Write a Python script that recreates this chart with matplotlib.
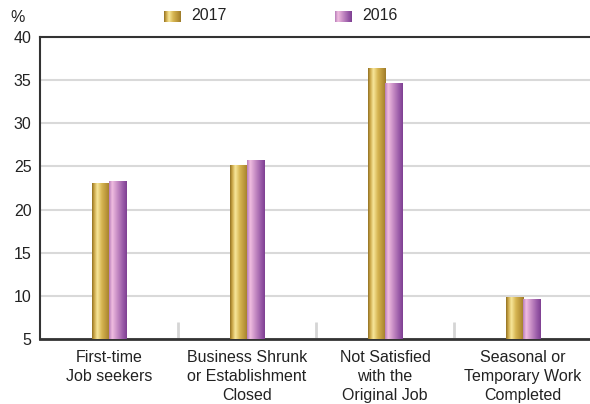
import numpy as np
import matplotlib
matplotlib.use("Agg")
import matplotlib.pyplot as plt
from matplotlib.colors import LinearSegmentedColormap

plt.rcParams['font.family'] = ['Liberation Sans', 'DejaVu Sans']

categories = ["First-time\nJob seekers", "Business Shrunk\nor Establishment\nClosed",
              "Not Satisfied\nwith the\nOriginal Job", "Seasonal or\nTemporary Work\nCompleted"]
series_names = ["2017", "2016"]
values_2017 = [23.1, 25.2, 36.4, 9.9]
values_2016 = [23.3, 25.7, 34.7, 9.6]
yticks = [5, 10, 15, 20, 25, 30, 35, 40]

gold = LinearSegmentedColormap.from_list("gold", [(0, "#8f6f22"), (0.12, "#c9a445"), (0.3, "#f8e79a"),
                                                  (0.55, "#d6b552"), (0.85, "#b48f35"), (1, "#9c7a2a")])
purple = LinearSegmentedColormap.from_list("purple", [(0, "#b67cb8"), (0.18, "#f0bde0"), (0.45, "#c98fc6"),
                                                      (0.8, "#9758a6"), (1, "#7e3f92")])

fig = plt.figure(figsize=(5.9, 4.04), dpi=100)
ax = fig.add_axes([40/590, 1-339/404, 552/590, 302/404])

x = np.arange(len(categories))
w = 0.124
grad = np.linspace(0, 1, 256).reshape(1, -1)
for vals, off, cmap in [(values_2017, -w/2, gold), (values_2016, w/2, purple)]:
    bars = ax.bar(x + off, np.array(vals) - 5, width=w, bottom=5, color="none", edgecolor="none", zorder=3)
    for b in bars:
        x0, y0 = b.get_x(), b.get_y()
        im = ax.imshow(grad, cmap=cmap, extent=(x0, x0 + b.get_width(), y0, y0 + b.get_height()),
                       aspect="auto", zorder=3, interpolation="bilinear")
        im.set_clip_path(b)

ax.set_xlim(-0.5, 3.5)
ax.set_ylim(5, 40)
ax.set_yticks(yticks)
ax.set_yticklabels([str(v) for v in yticks], fontsize=11.5, color="#222222")
ax.yaxis.grid(True, color="#d9d9d9", linewidth=1.5, zorder=0)
ax.set_axisbelow(True)
ax.tick_params(axis="y", length=0, pad=6)
ax.set_xticks(x)
ax.set_xticklabels(categories, fontsize=11.5, color="#222222", linespacing=1.33)
ax.tick_params(axis="x", length=0, pad=8)
ax.set_xticks([0.5, 1.5, 2.5], minor=True)
ax.tick_params(axis="x", which="minor", direction="in", length=12, width=2, color="#d5d5d5")

for s in ["left", "bottom", "top"]:
    ax.spines[s].set_color("#333333")
    ax.spines[s].set_linewidth(1.5)
ax.spines["bottom"].set_linewidth(2)
ax.spines["right"].set_visible(False)

fig.text(10/590, 1-17/404, "%", fontsize=11.5, color="#222222", va="center", ha="left")

for cmap, px, name in [(gold, 164, series_names[0]), (purple, 335, series_names[1])]:
    lax = fig.add_axes([px/590, 1-22/404, 17/590, 11/404])
    lax.imshow(grad, cmap=cmap, aspect="auto", interpolation="bilinear")
    lax.axis("off")
    fig.text((px + 27)/590, 1-16/404, name, fontsize=11.5, color="#222222", va="center", ha="left")

fig.savefig("out.png", dpi=100)
